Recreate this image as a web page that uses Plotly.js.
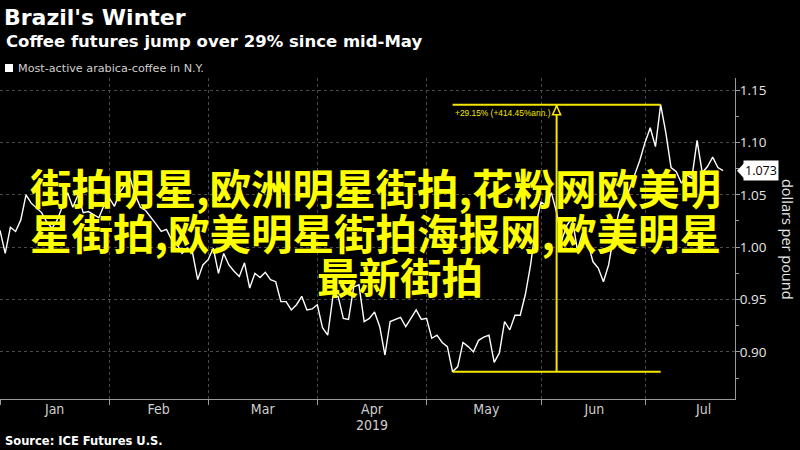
<!DOCTYPE html>
<html><head><meta charset="utf-8">
<script src="https://cdn.plot.ly/plotly-3.0.1.min.js"></script>
<style>html,body{margin:0;padding:0;background:#000}#chart{width:800px;height:450px}</style>
</head><body><div id="chart"></div>
<script>
// ---- data ----
const dates = [
 '2019-01-02','2019-01-03','2019-01-04','2019-01-07','2019-01-08','2019-01-09','2019-01-10','2019-01-11','2019-01-14','2019-01-15','2019-01-16','2019-01-17','2019-01-18','2019-01-22','2019-01-23','2019-01-24','2019-01-25','2019-01-28','2019-01-29','2019-01-30','2019-01-31',
 '2019-02-01','2019-02-04','2019-02-05','2019-02-06','2019-02-07','2019-02-08','2019-02-11','2019-02-12','2019-02-13','2019-02-14','2019-02-15','2019-02-19','2019-02-20','2019-02-21','2019-02-22','2019-02-25','2019-02-26','2019-02-27','2019-02-28',
 '2019-03-01','2019-03-04','2019-03-05','2019-03-06','2019-03-07','2019-03-08','2019-03-11','2019-03-12','2019-03-13','2019-03-14','2019-03-15','2019-03-18','2019-03-19','2019-03-20','2019-03-21','2019-03-22','2019-03-25','2019-03-26','2019-03-27','2019-03-28','2019-03-29',
 '2019-04-01','2019-04-02','2019-04-03','2019-04-04','2019-04-05','2019-04-08','2019-04-09','2019-04-10','2019-04-11','2019-04-12','2019-04-15','2019-04-16','2019-04-17','2019-04-18','2019-04-22','2019-04-23','2019-04-24','2019-04-25','2019-04-26','2019-04-29','2019-04-30',
 '2019-05-01','2019-05-02','2019-05-03','2019-05-06','2019-05-07','2019-05-08','2019-05-09','2019-05-10','2019-05-13','2019-05-14','2019-05-15','2019-05-16','2019-05-17','2019-05-20','2019-05-21','2019-05-22','2019-05-23','2019-05-24','2019-05-28','2019-05-29','2019-05-30','2019-05-31',
 '2019-06-03','2019-06-04','2019-06-05','2019-06-06','2019-06-07','2019-06-10','2019-06-11','2019-06-12','2019-06-13','2019-06-14','2019-06-17','2019-06-18','2019-06-19','2019-06-20','2019-06-21','2019-06-24','2019-06-25','2019-06-26','2019-06-27','2019-06-28',
 '2019-07-01','2019-07-02','2019-07-03','2019-07-05','2019-07-08','2019-07-09','2019-07-10','2019-07-11','2019-07-12','2019-07-15','2019-07-16','2019-07-17','2019-07-18','2019-07-19','2019-07-22','2019-07-23'
];
const prices = [
 1.016,0.994,1.019,1.015,1.026,1.050,1.042,1.037,1.033,1.024,1.018,1.026,1.040,1.052,1.038,1.050,1.033,1.034,1.031,1.028,1.040,
 1.047,1.039,1.052,1.059,1.066,1.050,1.038,1.035,1.029,1.022,1.015,1.017,1.007,1.003,0.994,0.999,0.995,0.969,0.983,
 0.988,0.999,0.975,0.994,0.983,0.977,0.972,0.985,0.961,0.975,0.971,0.976,0.969,0.967,0.948,0.948,0.940,0.945,0.953,0.940,0.941,
 0.945,0.923,0.916,0.953,0.953,0.932,0.931,0.962,0.964,0.929,0.932,0.938,0.924,0.897,0.929,0.931,0.933,0.924,0.932,0.940,0.931,
 0.932,0.913,0.916,0.909,0.905,0.881,0.886,0.909,0.905,0.900,0.911,0.914,0.916,0.890,0.899,0.929,0.921,0.935,0.935,0.955,0.983,1.021,
 1.043,1.040,1.052,1.033,1.007,1.021,1.028,0.997,1.014,1.004,0.986,0.980,0.967,0.983,1.012,1.034,1.045,1.055,1.069,1.083,
 1.100,1.114,1.096,1.136,1.109,1.076,1.072,1.061,1.069,1.066,1.102,1.071,1.077,1.086,1.076,1.073
];
const holidays = ['2019-01-01','2019-01-21','2019-02-18','2019-04-19','2019-05-27','2019-07-04'];
const monthStarts = ['2019-01-02','2019-02-01','2019-03-01','2019-04-01','2019-05-01','2019-06-03','2019-07-01'];
const monthLabelDates = ['2019-01-16 12:00','2019-02-14 12:00','2019-03-15 12:00','2019-04-15 12:00','2019-05-16 12:00','2019-06-17 06:00','2019-07-17 06:00'];
const monthLabels = ['Jan','Feb','Mar','Apr','May','Jun','Jul'];
const xRange = ['2019-01-02','2019-07-25 07:00'];
const yRange = [0.855, 1.1615];
const titleText = "Brazil's Winter";
const subtitleText = 'Coffee futures jump over 29% since mid-May';
const legendText = 'Most-active arabica-coffee in N.Y.';
const sourceText = 'Source: ICE Futures U.S.';
const yTitleText = 'dollars per pound';
const yearLabel = '2019';
const yearLabelDate = '2019-04-15 12:00';
const measureText = '+29.15% (+414.45%ann.)';
const watermark = ['街拍明星,欧洲明星街拍,花粉网欧美明','星街拍,欧美明星街拍海报网,欧美明星','最新街拍'];

// ---- derived ----
let lo = 0; prices.forEach((v,i)=>{ if(v<prices[lo]) lo=i; });
let hi = lo; for(let i=lo;i<prices.length;i++){ if(prices[i]>prices[hi]) hi=i; }
const mid = Math.round((lo+hi)/2);
const lastVal = prices[prices.length-1];

// pixel helpers for page-level text (plot area: x 0..735, y 78..399)
const PW = 735, PT = 78, PB = 399, PH = PB-PT;
const px = X => X/PW;
const py = Y => (PB-Y)/PH;

const YEL = '#f5e600';
const WM = '#ffff00';
const GRID = '#4a4a4a';
const AX = '#9a9a9a';
const NARROW = '"Liberation Sans Narrow","DejaVu Sans Condensed",sans-serif';
const breaks = [{bounds:['sat','mon']},{values:holidays}];

const traces = [
  {x: dates, y: prices, type:'scatter', mode:'lines',
   line:{color:'#ffffff', width:1.4}, hoverinfo:'skip', showlegend:false},
  {x: monthLabelDates, y: monthLabelDates.map(()=>null), xaxis:'x2', yaxis:'y', type:'scatter', mode:'lines',
   hoverinfo:'skip', showlegend:false}
];

const wmFont = {family:'"Noto Sans CJK SC", sans-serif', size:41.5, color:WM};
const annotations = [
  {xref:'paper', yref:'paper', x:px(4), y:py(41), xanchor:'left', yanchor:'middle', showarrow:false,
   text:'<b>'+subtitleText+'</b>', font:{family:'DejaVu Sans', size:16.5, color:'#ffffff'}},
  {xref:'paper', yref:'paper', x:px(16), y:py(68), xanchor:'left', yanchor:'middle', showarrow:false,
   text:legendText, font:{family:'DejaVu Sans', size:11.2, color:'#cfcfcf'}},
  {xref:'paper', yref:'paper', x:px(3), y:py(441), xanchor:'left', yanchor:'middle', showarrow:false,
   text:'<b>'+sourceText+'</b>', font:{family:'DejaVu Sans', size:11.5, color:'#ffffff'}},
  {xref:'paper', yref:'paper', x:px(787), y:py(239), xanchor:'center', yanchor:'middle', showarrow:false,
   textangle:90, text:yTitleText, font:{family:'"Open Sans", sans-serif', size:14.5, color:'#e6e6e6'}},
  {xref:'x', yref:'paper', x:yearLabelDate, y:py(425), xanchor:'center', yanchor:'middle', showarrow:false,
   text:yearLabel, font:{family:NARROW, size:14, color:'#cfcfcf'}},
  {xref:'x', yref:'y', x:dates[lo], y:prices[hi], xanchor:'left', yanchor:'top', xshift:0, yshift:-1, showarrow:false,
   text:measureText, font:{family:'"Liberation Sans", sans-serif', size:8.4, color:YEL}},
  {xref:'paper', yref:'y', x:1, y:lastVal, xanchor:'left', yanchor:'middle', xshift:8, showarrow:false,
   text:lastVal.toFixed(3), bgcolor:'#ffffff', borderpad:1,
   font:{family:'"Open Sans", sans-serif', size:12.5, color:'#000000'}},
  {xref:'paper', yref:'paper', x:px(375), y:py(187), xanchor:'center', yanchor:'middle', showarrow:false,
   text:'<b>'+watermark[0]+'</b>', font:wmFont},
  {xref:'paper', yref:'paper', x:px(375), y:py(232), xanchor:'center', yanchor:'middle', showarrow:false,
   text:'<b>'+watermark[1]+'</b>', font:wmFont},
  {xref:'paper', yref:'paper', x:px(400), y:py(276), xanchor:'center', yanchor:'middle', showarrow:false,
   text:'<b>'+watermark[2]+'</b>', font:wmFont}
];

const shapes = [
  {type:'line', xref:'x', yref:'y', x0:dates[lo], x1:dates[hi], y0:prices[hi], y1:prices[hi], line:{color:YEL, width:2}},
  {type:'line', xref:'x', yref:'y', x0:dates[lo], x1:dates[hi], y0:prices[lo], y1:prices[lo], line:{color:YEL, width:2}},
  {type:'line', xref:'x', yref:'y', x0:dates[mid], x1:dates[mid], y0:prices[lo], y1:prices[hi], line:{color:YEL, width:2}},
  {type:'path', xref:'x', yref:'y', xsizemode:'pixel', ysizemode:'pixel', xanchor:dates[mid], yanchor:prices[hi],
   path:'M 0 -1 L -4 -10 L 4 -10 Z', fillcolor:'#000000', line:{color:YEL, width:1.6}},
  {type:'rect', xref:'paper', yref:'paper', x0:px(5), x1:px(13), y0:py(72), y1:py(64), fillcolor:'#ffffff', line:{width:0}},
  {type:'path', xref:'paper', yref:'y', xsizemode:'pixel', ysizemode:'pixel', xanchor:1, yanchor:lastVal,
   path:'M 2 0 L 9 7.5 L 9 -7.5 Z', fillcolor:'#ffffff', line:{width:0}}
];

const layout = {
  width:800, height:450,
  paper_bgcolor:'#000000', plot_bgcolor:'#000000',
  margin:{l:0, r:65, t:78, b:51},
  showlegend:false,
  title:{text:'<b>'+titleText+'</b>', xref:'container', yref:'container', x:4/800, y:1-17/450,
         xanchor:'left', yanchor:'middle', font:{family:'DejaVu Sans', size:22, color:'#ffffff'}},
  xaxis:{
    type:'date', range:xRange, rangebreaks:breaks,
    tickmode:'array', tickvals:monthStarts, showticklabels:false,
    showgrid:true, gridcolor:GRID, griddash:'dot', gridwidth:1,
    showline:true, linecolor:AX, linewidth:1,
    ticks:'outside', ticklen:5, tickcolor:AX,
    zeroline:false, fixedrange:true
  },
  xaxis2:{
    type:'date', range:xRange, rangebreaks:breaks, overlaying:'x', anchor:'y', side:'bottom',
    tickmode:'array', tickvals:monthLabelDates, ticktext:monthLabels,
    showgrid:false, showline:false, ticks:'', zeroline:false,
    tickfont:{family:NARROW, size:14, color:'#cfcfcf'}, fixedrange:true
  },
  yaxis:{
    side:'right', range:yRange,
    tick0:0.9, dtick:0.05, tickformat:'.2f',
    showgrid:true, gridcolor:GRID, griddash:'dot', gridwidth:1,
    showline:true, linecolor:AX, linewidth:1,
    ticks:'outside', ticklen:4, tickcolor:AX, ticklabelstandoff:-3,
    minor:{dtick:0.025, tick0:0.9, ticks:'outside', ticklen:3, tickcolor:AX, showgrid:false},
    tickfont:{family:'"Open Sans", sans-serif', size:13.5, color:'#e6e6e6'},
    zeroline:false, fixedrange:true
  },
  annotations: annotations,
  shapes: shapes
};

Plotly.newPlot('chart', traces, layout, {displayModeBar:false, staticPlot:true});
</script>
</body></html>
